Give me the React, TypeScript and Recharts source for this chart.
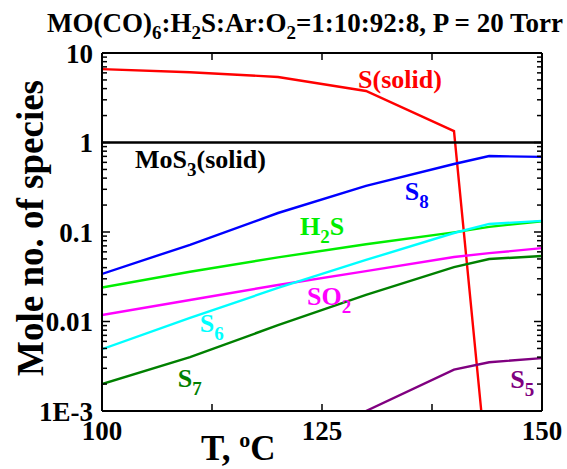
import React from "react";
import {
  LineChart,
  Line,
  XAxis,
  YAxis,
  ReferenceDot,
} from "recharts";

// temperatures (°C) shared by most species
const T_MAIN = [100, 110, 120, 130, 140, 144, 150];
const T_SSOLID = [100, 110, 120, 130, 140, 143.1];
const T_MOS3 = [100, 150];
const T_S5 = [130, 140, 144, 150];

// mole numbers
const S_SOLID = [6.6, 6.1, 5.4, 3.76, 1.34, 0.001];
const MOS3 = [1, 1];
const S8 = [0.034, 0.072, 0.163, 0.327, 0.575, 0.706, 0.69];
const H2S = [0.024, 0.036, 0.052, 0.073, 0.099, 0.114, 0.132];
const SO2 = [0.0118, 0.0174, 0.0256, 0.0366, 0.0526, 0.058, 0.066];
const S6 = [0.0049, 0.011, 0.0237, 0.0487, 0.0975, 0.123, 0.133];
const S7 = [0.002, 0.004, 0.0091, 0.0198, 0.0406, 0.0499, 0.054];
const S5 = [0.001, 0.0029, 0.0035, 0.0039];

const X_LABEL_TICKS = [100, 125, 150];
const X_MINOR_TICKS = [100, 112.5, 125, 137.5, 150];
const Y_MAJOR_TICKS = [0.001, 0.01, 0.1, 1, 10];
const Y_MINOR_TICKS = [
  0.002, 0.003, 0.004, 0.005, 0.006, 0.007, 0.008, 0.009,
  0.02, 0.03, 0.04, 0.05, 0.06, 0.07, 0.08, 0.09,
  0.2, 0.3, 0.4, 0.5, 0.6, 0.7, 0.8, 0.9,
  2, 3, 4, 5, 6, 7, 8, 9,
];

const FONT = '"Liberation Serif", "Times New Roman", serif';

type Part = [string, "" | "sub" | "sup"];

// in-plot species labels (text, anchor temperature, anchor value, colour)
const LABELS: { parts: Part[]; t: number; v: number; color: string }[] = [
  { parts: [["S(solid)", ""]], t: 129.1, v: 4.06, color: "#ff0000" },
  { parts: [["MoS", ""], ["3", "sub"], ["(solid)", ""]], t: 103.75, v: 0.519, color: "#000000" },
  { parts: [["S", ""], ["8", "sub"]], t: 134.4, v: 0.228, color: "#0000ff" },
  { parts: [["H", ""], ["2", "sub"], ["S", ""]], t: 122.5, v: 0.0925, color: "#00ee00" },
  { parts: [["SO", ""], ["2", "sub"]], t: 123.3, v: 0.0153, color: "#ff00ff" },
  { parts: [["S", ""], ["6", "sub"]], t: 111.1, v: 0.00764, color: "#00ffff" },
  { parts: [["S", ""], ["7", "sub"]], t: 108.6, v: 0.00185, color: "#008000" },
  { parts: [["S", ""], ["5", "sub"]], t: 146.4, v: 0.0018, color: "#800080" },
];

const TITLE: Part[] = [
  ["MO(CO)", ""], ["6", "sub"], [":H", ""], ["2", "sub"], ["S:Ar:O", ""], ["2", "sub"],
  ["=1:10:92:8, P = 20 Torr", ""],
];

const pairs = (ts: number[], vs: number[]) => ts.map((t, i) => ({ t, v: vs[i] }));

const SERIES = [
  { name: "S(solid)", color: "#ff0000", data: pairs(T_SSOLID, S_SOLID) },
  { name: "MoS3(solid)", color: "#000000", data: pairs(T_MOS3, MOS3) },
  { name: "S8", color: "#0000ff", data: pairs(T_MAIN, S8) },
  { name: "H2S", color: "#00ee00", data: pairs(T_MAIN, H2S) },
  { name: "SO2", color: "#ff00ff", data: pairs(T_MAIN, SO2) },
  { name: "S6", color: "#00ffff", data: pairs(T_MAIN, S6) },
  { name: "S7", color: "#008000", data: pairs(T_MAIN, S7) },
  { name: "S5", color: "#800080", data: pairs(T_S5, S5) },
];

function spans(parts: Part[], size: number, small: number, shift: number) {
  let cur = 0;
  return parts.map(([txt, kind], i) => {
    const want = kind === "sub" ? shift : kind === "sup" ? -shift : 0;
    const dy = want - cur;
    cur = want;
    return (
      <tspan key={i} dy={dy} fontSize={kind ? small : size}>
        {txt}
      </tspan>
    );
  });
}

const Empty = () => <g />;

const fmtY = (v: number) => (v === 0.001 ? "1E-3" : String(v));

const tickStyle = { fill: "#000", fontSize: 27, fontWeight: "bold", fontFamily: FONT };
const frame = { stroke: "#000", strokeWidth: 2 };
const tl = { stroke: "#000", strokeWidth: 1.5 };

export default function App() {
  return (
    <div style={{ position: "absolute", left: 0, top: 0, background: "#fff" }}>
      <LineChart width={567} height={469} margin={{ top: 53, right: 25, left: 0, bottom: 0 }}>
        <XAxis
          xAxisId="b"
          type="number"
          dataKey="t"
          domain={[100, 150]}
          allowDataOverflow
          ticks={X_LABEL_TICKS}
          interval={0}
          tickLine={false}
          tickSize={6}
          tickMargin={4}
          height={58}
          axisLine={frame}
          tick={tickStyle}
          label={{
            content: () => (
              <text x={201} y={460} fontFamily={FONT} fontWeight="bold" fill="#000">
                {spans([["T, ", ""], ["o", "sup"], ["C", ""]], 35, 22, 13)}
              </text>
            ),
          }}
        />
        <XAxis
          xAxisId="bm"
          type="number"
          dataKey="t"
          domain={[100, 150]}
          allowDataOverflow
          mirror
          height={1}
          ticks={X_MINOR_TICKS}
          interval={0}
          tickSize={7}
          tick={Empty}
          tickLine={tl}
          axisLine={false}
        />
        <XAxis
          xAxisId="top"
          orientation="top"
          type="number"
          dataKey="t"
          domain={[100, 150]}
          allowDataOverflow
          mirror
          height={1}
          ticks={X_MINOR_TICKS}
          interval={0}
          tickSize={7}
          tick={Empty}
          tickLine={tl}
          axisLine={frame}
          label={{
            content: () => (
              <text x={305} y={32} textAnchor="middle" fontFamily={FONT} fontWeight="bold" fill="#000">
                {spans(TITLE, 27, 19, 7)}
              </text>
            ),
          }}
        />
        <YAxis
          yAxisId="l"
          type="number"
          scale="log"
          domain={[0.001, 10]}
          allowDataOverflow
          ticks={Y_MAJOR_TICKS}
          interval={0}
          tickFormatter={fmtY}
          tickLine={false}
          tickSize={5}
          tickMargin={4}
          width={102}
          axisLine={frame}
          tick={tickStyle}
          label={{
            content: () => (
              <text
                x={43}
                y={228}
                transform="rotate(-90 43 228)"
                textAnchor="middle"
                fontFamily={FONT}
                fontWeight="bold"
                fontSize={37}
                fill="#000"
              >
                Mole no. of species
              </text>
            ),
          }}
        />
        {[
          { id: "lmaj", o: "left", t: Y_MAJOR_TICKS, s: 8, line: false },
          { id: "lmin", o: "left", t: Y_MINOR_TICKS, s: 4, line: false },
          { id: "rmaj", o: "right", t: Y_MAJOR_TICKS, s: 8, line: true },
          { id: "rmin", o: "right", t: Y_MINOR_TICKS, s: 4, line: false },
        ].map((a) => (
          <YAxis
            key={a.id}
            yAxisId={a.id}
            orientation={a.o as "left" | "right"}
            mirror
            width={1}
            type="number"
            scale="log"
            domain={[0.001, 10]}
            allowDataOverflow
            ticks={a.t}
            interval={0}
            tickSize={a.s}
            tick={Empty}
            tickLine={tl}
            axisLine={a.line ? frame : false}
          />
        ))}
        {SERIES.map((s) => (
          <Line
            key={s.name}
            xAxisId="b"
            yAxisId="l"
            data={s.data}
            dataKey="v"
            name={s.name}
            type="linear"
            stroke={s.color}
            strokeWidth={2.4}
            dot={false}
            isAnimationActive={false}
          />
        ))}
        {LABELS.map((l, i) => (
          <ReferenceDot
            key={i}
            xAxisId="b"
            yAxisId="l"
            x={l.t}
            y={l.v}
            r={0}
            ifOverflow="visible"
            shape={(p: any) => (
              <text x={p.cx} y={p.cy} fill={l.color} fontFamily={FONT} fontWeight="bold">
                {spans(l.parts, 26, 19, 8)}
              </text>
            )}
          />
        ))}
      </LineChart>
    </div>
  );
}
